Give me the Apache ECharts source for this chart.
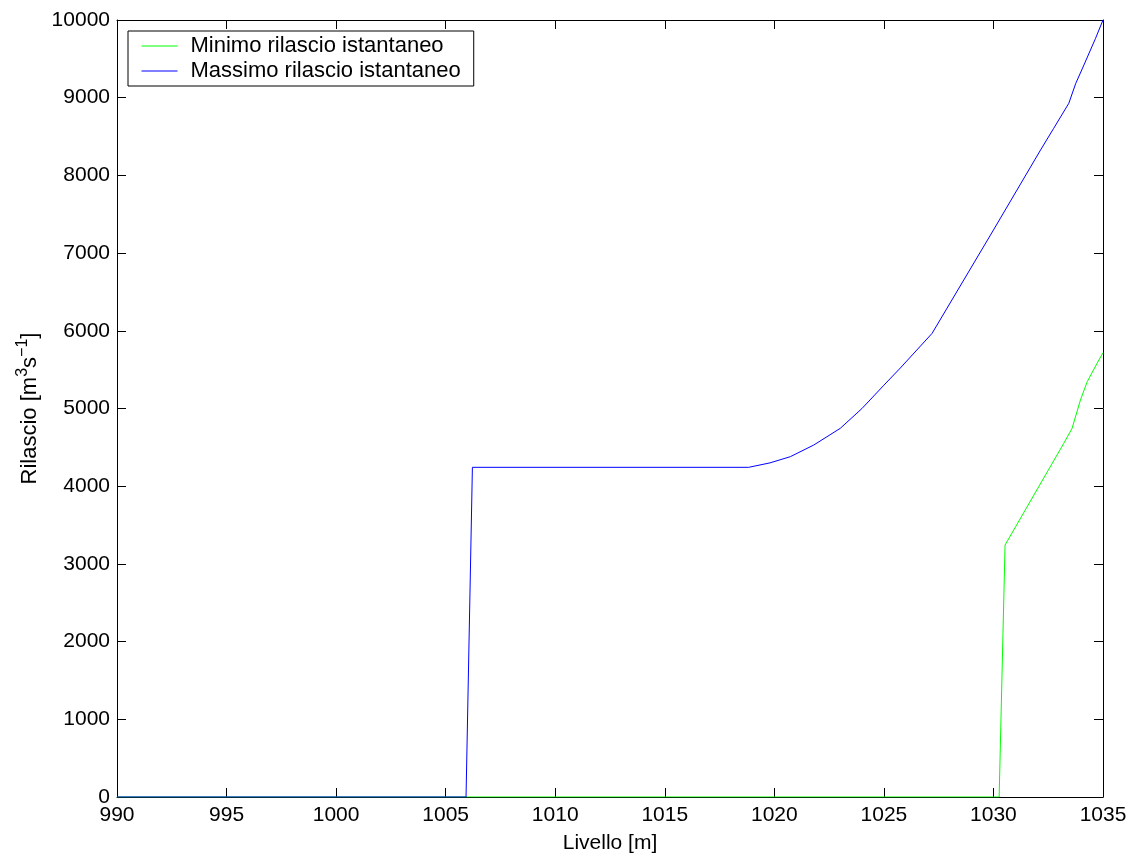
<!DOCTYPE html>
<html>
<head>
<meta charset="utf-8">
<script src="https://cdn.jsdelivr.net/npm/echarts@6/dist/echarts.min.js"></script>
<style>
html,body{margin:0;padding:0;background:#fff;}
#c{width:1137px;height:862px;}
</style>
</head>
<body>
<div id="c"></div>
<script>
const xTicks = [990, 995, 1000, 1005, 1010, 1015, 1020, 1025, 1030, 1035];
const yTicks = [0, 1000, 2000, 3000, 4000, 5000, 6000, 7000, 8000, 9000, 10000];

const minName = 'Minimo rilascio istantaneo';
const minLevels = [990, 1030.26, 1030.53, 1031.5, 1032.5, 1033.21, 1033.59, 1033.97, 1034.28, 1034.73, 1035];
const minValues = [0, 0, 3243, 3717, 4205, 4552, 4745, 5109, 5345, 5582, 5718];

const maxName = 'Massimo rilascio istantaneo';
const maxLevels = [990, 1005.93, 1006.22, 1018.83, 1019.8, 1020.73, 1021.8, 1023.01, 1024, 1025, 1025.75, 1027.2, 1030, 1032.15, 1032.75, 1033.44, 1033.75, 1034.13, 1034.66, 1035];
const maxValues = [0, 0, 4243, 4243, 4300, 4380, 4530, 4745, 5000, 5300, 5521, 5967, 7297, 8327, 8606, 8928, 9180, 9421, 9764, 10000];

const pairs = (xs, ys) => xs.map((x, i) => [x, ys[i]]);

const font = 'Liberation Sans, Arial, Helvetica, sans-serif';
const fs = 21;
const chart = echarts.init(document.getElementById('c'), null, {renderer: 'canvas'});

const tickStyle = {show: true, inside: true, length: 9, lineStyle: {color: '#000', width: 1}};
const axisLineStyle = {show: true, onZero: false, lineStyle: {color: '#000', width: 1}};
const plain = v => String(v);

chart.setOption({
  animation: false,
  backgroundColor: '#fff',
  grid: {left: 117, right: 34, top: 20, bottom: 65, show: false, containLabel: false},
  legend: {
    orient: 'vertical',
    left: 128, top: 31,
    backgroundColor: '#fff',
    borderColor: '#000',
    borderWidth: 1,
    borderRadius: 0,
    padding: [4, 13, 4, 13],
    itemGap: 3,
    itemWidth: 36,
    itemHeight: 21,
    itemStyle: {opacity: 0},
    lineStyle: {width: 1},
    textStyle: {fontFamily: font, fontSize: 22, color: '#000', padding: [0, 0, 0, 8]},
    data: [minName, maxName]
  },
  xAxis: [{
    type: 'value', min: xTicks[0], max: xTicks[xTicks.length - 1], interval: 5,
    position: 'bottom',
    name: 'Livello [m]', nameLocation: 'middle', nameGap: 36,
    nameTextStyle: {fontFamily: font, fontSize: fs, color: '#000'},
    axisLine: axisLineStyle, axisTick: tickStyle,
    axisLabel: {fontFamily: font, fontSize: fs, color: '#000', margin: 8, formatter: plain},
    splitLine: {show: false}
  }, {
    type: 'value', min: xTicks[0], max: xTicks[xTicks.length - 1], interval: 5,
    position: 'top',
    axisLine: axisLineStyle, axisTick: tickStyle,
    axisLabel: {show: false}, splitLine: {show: false}
  }],
  yAxis: [{
    type: 'value', min: yTicks[0], max: yTicks[yTicks.length - 1], interval: 1000,
    position: 'left',
    name: '{a|Rilascio [m}{s|3}{a|s}{s|−1}{a|]}', nameLocation: 'middle', nameGap: 71,
    nameRotate: 90,
    nameTextStyle: {
      fontFamily: font, fontSize: 22, color: '#000',
      rich: {
        a: {fontFamily: font, fontSize: 22, color: '#000'},
        s: {fontFamily: font, fontSize: 16, color: '#000', padding: [0, 0, 14, 0]}
      }
    },
    axisLine: axisLineStyle, axisTick: tickStyle,
    axisLabel: {fontFamily: font, fontSize: fs, color: '#000', margin: 7, formatter: plain},
    splitLine: {show: false}
  }, {
    type: 'value', min: yTicks[0], max: yTicks[yTicks.length - 1], interval: 1000,
    position: 'right',
    axisLine: axisLineStyle, axisTick: tickStyle,
    axisLabel: {show: false}, splitLine: {show: false}
  }],
  series: [{
    name: minName, type: 'line', xAxisIndex: 0, yAxisIndex: 0,
    data: pairs(minLevels, minValues),
    symbol: 'none', showSymbol: false,
    lineStyle: {color: '#00ff00', width: 1}, itemStyle: {color: '#00ff00'}
  }, {
    name: maxName, type: 'line', xAxisIndex: 0, yAxisIndex: 0,
    data: pairs(maxLevels, maxValues),
    symbol: 'none', showSymbol: false,
    lineStyle: {color: '#0000ff', width: 1}, itemStyle: {color: '#0000ff'}
  }]
});
</script>
</body>
</html>
